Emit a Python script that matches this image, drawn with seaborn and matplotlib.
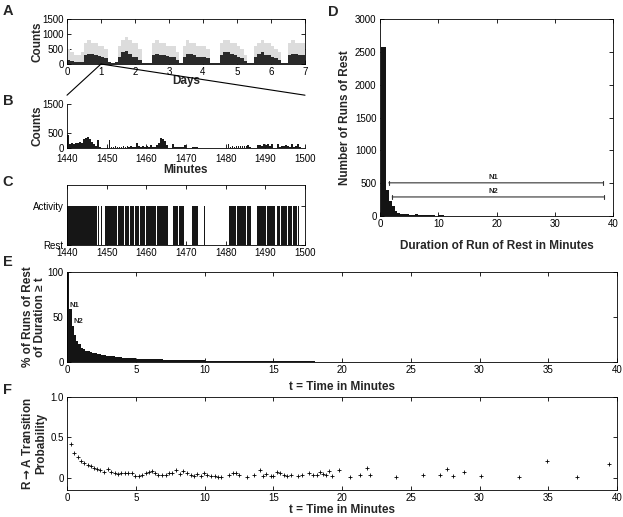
import numpy as np
import matplotlib.pyplot as plt
import seaborn as sns
from matplotlib.patches import ConnectionPatch

# A: one week of activity counts, summarised in 0.1-day bins
# (dense = height of the solid band, sparse = top of the scattered points)
day_edges = np.linspace(0, 7, 71)
dense_counts = [150, 100, 70, 60, 60, 300, 350, 330, 300, 280,
                250, 200, 60, 40, 60, 250, 400, 450, 350, 250,
                250, 150, 40, 30, 40, 300, 350, 300, 300, 280,
                250, 250, 150, 50, 250, 350, 350, 300, 250, 250,
                250, 200, 40, 30, 50, 300, 400, 400, 350, 300,
                250, 200, 100, 40, 30, 250, 350, 400, 300, 300,
                250, 200, 150, 40, 40, 300, 350, 350, 300, 300]
sparse_counts = [500, 400, 300, 300, 400, 700, 800, 700, 700, 600,
                 600, 500, 60, 40, 60, 600, 800, 900, 800, 700,
                 700, 500, 40, 30, 40, 700, 800, 700, 700, 600,
                 600, 600, 400, 50, 600, 800, 700, 700, 600, 600,
                 600, 500, 40, 30, 50, 700, 800, 800, 700, 700,
                 600, 500, 300, 40, 30, 600, 700, 800, 700, 700,
                 600, 500, 400, 40, 40, 700, 800, 700, 700, 700]

# B: minutes 1440-1500 in 0.5-min bins
minute_bins = np.linspace(1440, 1499.5, 120)
hour_counts = [430, 120, 160, 150, 170, 160, 200, 170, 290, 330,
               390, 300, 220, 120, 60, 270, 20, 10, 0, 0,
               20, 270, 40, 50, 60, 40, 50, 30, 70, 40,
               60, 50, 80, 40, 30, 170, 60, 40, 60, 30,
               70, 50, 100, 20, 40, 90, 180, 350, 310, 230,
               90, 0, 0, 130, 50, 40, 40, 30, 50, 90,
               0, 0, 0, 50, 50, 30, 0, 0, 0, 10,
               0, 0, 0, 0, 0, 0, 15, 0, 0, 0,
               0, 130, 30, 60, 50, 70, 60, 80, 70, 80,
               60, 100, 20, 0, 0, 0, 90, 100, 80, 120,
               100, 140, 60, 150, 0, 0, 130, 50, 80, 70,
               100, 80, 50, 150, 30, 60, 150, 30, 0, 0]

# C: activity bouts (minutes)
bout_start = [1440.0, 1447.8, 1448.2, 1448.6, 1449.6, 1451.1, 1452.9, 1454.6,
              1455.8, 1457.1, 1458.4, 1459.8, 1461.3, 1462.6, 1466.6, 1468.3,
              1471.6, 1474.6, 1480.8, 1481.7, 1482.9, 1485.3, 1488.0, 1490.3,
              1492.9, 1494.0, 1495.6, 1497.0, 1498.2]
bout_end = [1447.6, 1447.95, 1448.35, 1448.8, 1451.0, 1452.7, 1454.4, 1455.6,
            1457.0, 1458.2, 1459.6, 1461.1, 1462.4, 1465.4, 1468.1, 1469.4,
            1473.0, 1474.8, 1481.5, 1482.6, 1485.1, 1486.5, 1490.1, 1492.4,
            1493.8, 1495.4, 1496.8, 1498.0, 1498.6]

# D: histogram of rest-run durations
rest_edges = [0.17] + list(np.arange(1.0, 10.0, 0.5)) + list(range(10, 41))
rest_runs = [2570, 400, 230, 145, 70, 45, 38, 30, 25, 20,
             18, 28, 22, 15, 18, 16, 10, 8, 7,
             10, 7, 6, 5, 6, 4, 5, 3, 4, 3,
             3, 2, 3, 2, 2, 1, 2, 1, 1, 1,
             1, 1, 0, 1, 0, 1, 0, 0, 1, 0]

# E: % of rest runs lasting at least t
surv_t = [0, 0.17, 0.33, 0.5, 0.67, 0.83, 1.0, 1.17, 1.33, 1.5, 1.67, 1.83,
          2.0, 2.17, 2.33, 2.5, 2.67, 2.83, 3.0, 3.5, 4.0, 4.5, 5.0,
          6, 7, 8, 9, 10, 12, 14, 16, 18, 20, 22, 24, 26, 28, 29]
surv_pct = [100, 59, 40, 30, 23, 20, 16, 14, 12.5, 11.8, 11, 10.5,
            10, 9.3, 8.8, 8.2, 7.6, 7.0, 6.4, 5.4, 4.6, 4.1, 3.7,
            3.1, 2.6, 2.2, 1.8, 1.5, 1.1, 0.8, 0.6, 0.45, 0.33, 0.25, 0.18, 0.12, 0.06, 0]

# F: rest -> activity transition probability
trans_t = [0.29, 0.49, 0.78, 1.01, 1.27, 1.50, 1.73, 1.97, 2.20, 2.43,
           2.72, 2.95, 3.18, 3.47, 3.70, 3.96, 4.25, 4.45, 4.74,
           4.97, 5.20, 5.43, 5.72, 5.95, 6.18, 6.41, 6.65, 6.88, 7.17,
           7.40, 7.63, 7.92, 8.21, 8.44, 8.73, 9.00, 9.25, 9.48, 9.74,
           9.97, 10.2, 10.46, 10.75, 10.98, 11.2, 11.76, 12.05, 12.28, 12.54,
           13.06, 13.58, 14.05, 14.28, 14.5, 14.8, 15.0, 15.3, 15.5, 15.78,
           16.0, 16.3, 16.8, 17.1, 17.57, 17.86, 18.15, 18.38, 18.6, 18.84,
           19.07, 19.3, 19.8, 20.6, 21.3, 21.85, 22.0, 23.9, 25.9, 27.1,
           27.6, 28.1, 28.85, 30.1, 32.9, 34.9, 37.1, 39.4]
trans_p = [0.42, 0.30, 0.25, 0.20, 0.18, 0.16, 0.14, 0.12, 0.11, 0.09,
           0.07, 0.10, 0.065, 0.057, 0.04, 0.053, 0.053, 0.053, 0.053,
           0.02, 0.02, 0.03, 0.057, 0.07, 0.075, 0.057, 0.033, 0.033, 0.033,
           0.057, 0.05, 0.094, 0.04, 0.086, 0.053, 0.033, 0.02, 0.04, 0.016,
           0.05, 0.033, 0.016, 0.024, 0.012, 0.012, 0.037, 0.06, 0.057, 0.037,
           0.008, 0.03, 0.094, 0.02, 0.04, 0.016, 0.016, 0.065, 0.05, 0.033,
           0.016, 0.03, 0.024, 0.03, 0.057, 0.033, 0.037, 0.065, 0.04, 0.037,
           0.08, 0.02, 0.09, 0.012, 0.03, 0.12, 0.037, 0.004, 0.03, 0.037,
           0.10, 0.024, 0.065, 0.016, 0.012, 0.20, 0.008, 0.17]

sns.set_style("ticks")
plt.rcParams["font.family"] = ["Liberation Sans Narrow", "Liberation Sans", "DejaVu Sans"]
plt.rcParams.update({
    "xtick.direction": "in", "ytick.direction": "in",
    "xtick.top": True, "ytick.right": True,
    "xtick.major.size": 3, "ytick.major.size": 3,
    "xtick.major.width": 0.6, "ytick.major.width": 0.6,
    "xtick.major.pad": 2.5, "ytick.major.pad": 2.5,
    "xtick.labelsize": 7, "ytick.labelsize": 7,
    "xtick.color": "black", "ytick.color": "black",
    "axes.edgecolor": "black", "axes.linewidth": 0.6,
    "axes.labelweight": "bold", "axes.labelsize": 8.5,
    "mathtext.default": "bf",
})

W, H = 623, 517
fig = plt.figure(figsize=(W / 100, H / 100), dpi=100)


def px_axes(left, top, right, bottom):
    return fig.add_axes([left / W, 1 - bottom / H, (right - left) / W, (bottom - top) / H])


def labels(ax, xl, xpos, yl=None, ypos=None):
    ax.set_xlabel(xl)
    ax.xaxis.set_label_coords(0.5, xpos)
    ax.xaxis.label.set_va("center")
    if yl:
        ax.set_ylabel(yl, multialignment="center", linespacing=1.1)
        ax.yaxis.set_label_coords(ypos, 0.5)
        ax.yaxis.label.set_va("center")


# A
axA = px_axes(67, 19, 305, 64)
axA.stairs(sparse_counts, day_edges, fill=True, color="#dcdcdc")
axA.stairs(dense_counts, day_edges, fill=True, color="#2a2a2a")
axA.set_xlim(0, 7)
axA.set_ylim(0, 1500)
axA.set_xticks(range(8))
axA.set_yticks([0, 500, 1000, 1500])
labels(axA, "Days", -0.38, "Counts", -0.125)

# B
axB = px_axes(67, 104, 305, 148)
axB.bar(minute_bins, hour_counts, width=0.45, align="edge", color="#1a1a1a", linewidth=0)
axB.set_xlim(1440, 1500)
axB.set_ylim(0, 1500)
axB.set_yticks([0, 500, 1500])
axB.tick_params(top=False, right=False)
axB.tick_params(axis="x", pad=4)
sns.despine(ax=axB)
labels(axB, "Minutes", -0.5, "Counts", -0.125)

for xb in (0, 1):
    con = ConnectionPatch(xyA=(1, 0), coordsA=axA.transData,
                          xyB=(xb, 1.2), coordsB=axB.transAxes,
                          color="black", lw=0.8)
    fig.add_artist(con)

# C
axC = px_axes(67, 185, 305, 245)
axC.broken_barh([(s, e - s) for s, e in zip(bout_start, bout_end)], (0, 1),
                facecolors="#161616", linewidth=0)
axC.set_xlim(1440, 1500)
axC.set_ylim(0, 1.55)
axC.set_yticks([0, 1])
axC.set_yticklabels(["Rest", "Activity"])

# D
axD = px_axes(380, 19, 613, 216)
rest_mid = [(a + b) / 2 for a, b in zip(rest_edges[:-1], rest_edges[1:])]
sns.histplot(x=rest_mid, weights=rest_runs, bins=rest_edges, ax=axD,
             color="#141414", alpha=1, linewidth=0)
axD.set_xlim(0, 40)
axD.set_ylim(0, 3000)
axD.set_xticks([0, 10, 20, 30, 40])
axD.set_yticks(range(0, 3001, 500))
labels(axD, "Duration of Run of Rest in Minutes", -0.15, "Number of Runs of Rest", -0.15)
for y0, x0, x1, name, ty in [(505, 1.5, 38.3, "N1", 590), (290, 2.1, 38.4, "N2", 370)]:
    axD.annotate("", xy=(x1, y0), xytext=(x0, y0),
                 arrowprops=dict(arrowstyle="|-|,widthA=0.15,widthB=0.15",
                                 lw=0.8, color="#333333", shrinkA=0, shrinkB=0))
    axD.text(19.5, ty, name, fontsize=5.5, fontweight="bold", ha="center", va="center")

# E
axE = px_axes(67, 272, 617, 362)
axE.stairs(surv_pct, surv_t + [40], fill=True, color="#141414")
axE.set_xlim(0, 40)
axE.set_ylim(0, 100)
axE.set_xticks(range(0, 41, 5))
axE.set_yticks([0, 50, 100])
labels(axE, "t = Time in Minutes", -0.28, "% of Runs of Rest\nof Duration \u2265 t", -0.06)
axE.text(0.2, 63, "N1", fontsize=5.5, fontweight="bold", va="center")
axE.text(0.45, 45, "N2", fontsize=5.5, fontweight="bold", va="center")

# F
axF = px_axes(67, 397, 617, 490)
sns.scatterplot(x=trans_t, y=trans_p, ax=axF, marker="+", s=8, color="black", linewidth=0.6)
axF.set_xlim(0, 40)
axF.set_ylim(-0.155, 1.0)
axF.set_xticks(range(0, 41, 5))
axF.set_yticks([0, 0.5, 1.0])
axF.set_yticklabels(["0", "0.5", "1.0"])
labels(axF, "t = Time in Minutes", -0.22, "R$\\rightarrow$A Transition\nProbability", -0.06)

for name, x, y in [("A", 8, 11), ("B", 8, 101), ("C", 8, 182), ("D", 333, 12), ("E", 8, 262), ("F", 8, 390)]:
    fig.text(x / W, 1 - y / H, name, fontsize=10.5, fontweight="bold",
             family=["Liberation Sans", "DejaVu Sans"], ha="center", va="center")

fig.savefig("out.png", dpi=100)
